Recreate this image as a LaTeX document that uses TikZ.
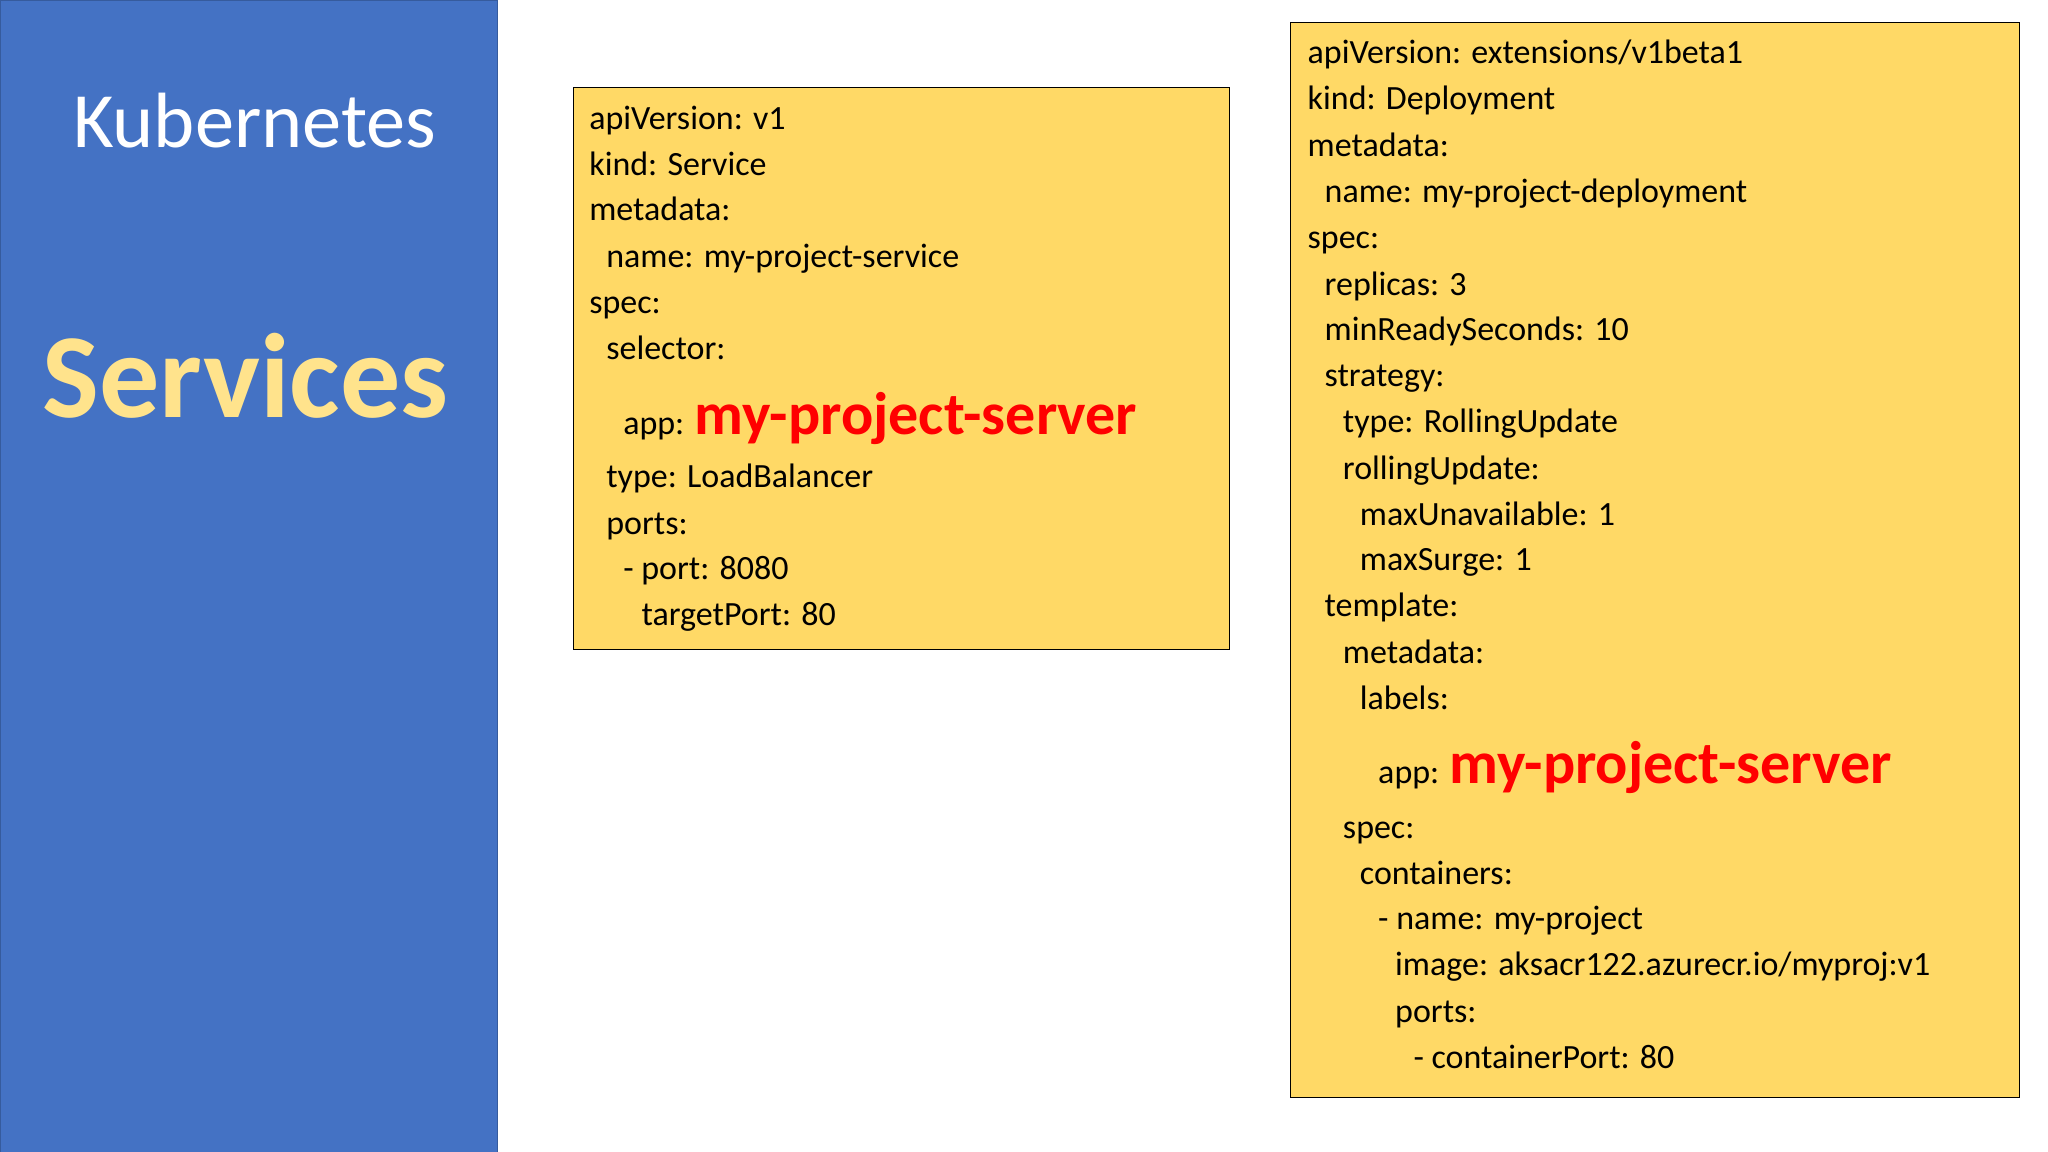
\documentclass[tikz,border=0pt]{standalone}
\usepackage{fontspec}
\setmainfont{Carlito}
\definecolor{panel}{HTML}{4472C4}
\definecolor{boxy}{HTML}{FFD966}
\definecolor{gold}{HTML}{FFE38C}
\definecolor{redt}{HTML}{FF0000}
\tikzset{
 ln/.style={anchor=base west,inner sep=0pt,font=\fontsize{26}{30}\selectfont},
 yb/.style={draw=black,line width=0.8pt,fill=boxy}
}
\begin{document}
\begin{tikzpicture}[x=1pt,y=-1pt]
\useasboundingbox (0,0) rectangle (1568,882);
\fill[white] (0,0) rectangle (1568,882);
\fill[panel,draw=panel!80!black] (0,0) rectangle (381,882);
\node[text=white,font=\fontsize{60}{70}\selectfont] (kt) at (195,92) {Kubernetes};
\node[text=gold,font=\fontsize{92}{100}\selectfont\bfseries] (st) at (188,288) {Services};
\draw[yb] (439,67) rectangle (941,497);
\draw[yb] (988,17) rectangle (1546,840);
% service
\node[ln] (s1) at (451,99) {apiVersion: v1};
\node[ln] (s2) at (451,134) {kind: Service};
\node[ln] (s3) at (451,169) {metadata:};
\node[ln] (s4) at (464,205) {name: my-project-service};
\node[ln] (s5) at (451,240) {spec:};
\node[ln] (s6) at (464,275) {selector:};
\node[ln] (s7) at (477,333) {app: {\color{redt}\fontsize{46}{50}\selectfont\bfseries my-project-server}};
\node[ln] (s8) at (464,373) {type: LoadBalancer};
\node[ln] (s9) at (464,409) {ports:};
\node[ln] (s10) at (477,444) {- port: 8080};
\node[ln] (s11) at (491,479) {targetPort: 80};
% deployment
\node[ln] (d1) at (1001,49) {apiVersion: extensions/v1beta1};
\node[ln] (d2) at (1001,84) {kind: Deployment};
\node[ln] (d3) at (1001,120) {metadata:};
\node[ln] (d4) at (1014,155) {name: my-project-deployment};
\node[ln] (d5) at (1001,190) {spec:};
\node[ln] (d6) at (1014,226) {replicas: 3};
\node[ln] (d7) at (1014,261) {minReadySeconds: 10};
\node[ln] (d8) at (1014,296) {strategy:};
\node[ln] (d9) at (1028,331) {type: RollingUpdate};
\node[ln] (d10) at (1028,367) {rollingUpdate:};
\node[ln] (d11) at (1041,402) {maxUnavailable: 1};
\node[ln] (d12) at (1041,437) {maxSurge: 1};
\node[ln] (d13) at (1014,472) {template:};
\node[ln] (d14) at (1028,508) {metadata:};
\node[ln] (d15) at (1041,543) {labels:};
\node[ln] (d16) at (1055,600) {app: {\color{redt}\fontsize{46}{50}\selectfont\bfseries my-project-server}};
\node[ln] (d17) at (1028,642) {spec:};
\node[ln] (d18) at (1041,677) {containers:};
\node[ln] (d19) at (1055,712) {- name: my-project};
\node[ln] (d20) at (1068,747) {image: aksacr122.azurecr.io/myproj:v1};
\node[ln] (d21) at (1068,783) {ports:};
\node[ln] (d22) at (1082,818) {- containerPort: 80};
\end{tikzpicture}
\end{document}
